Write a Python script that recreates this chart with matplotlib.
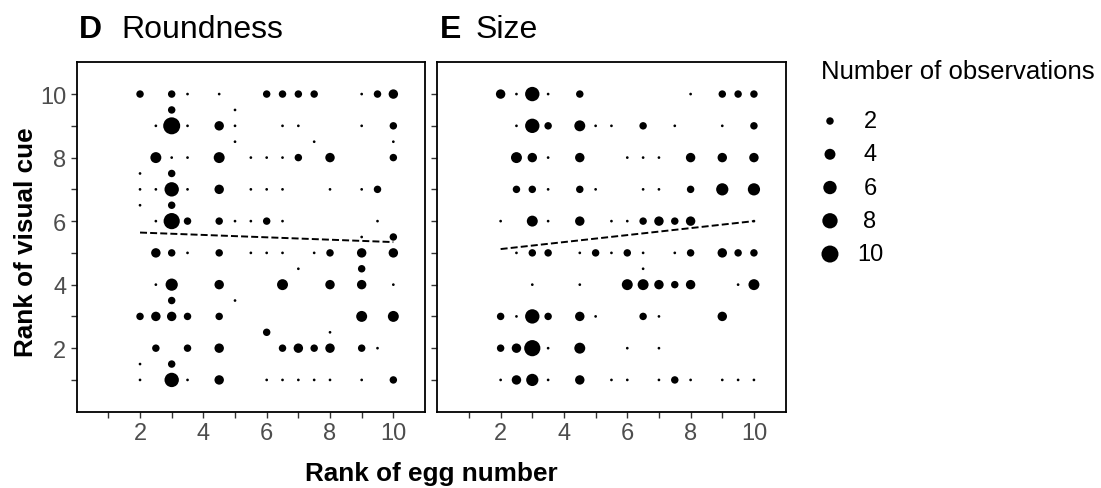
import numpy as np
import matplotlib
matplotlib.use("Agg")
import matplotlib.pyplot as plt

plt.rcParams['font.family'] = ['Liberation Sans', 'DejaVu Sans']

# ---- data: (rank of egg number, rank of visual cue, number of observations)
# panel D: roundness
round_x = [2, 3, 3.5, 4.5, 6, 6.5, 7, 7.5, 9, 9.5, 10,
           3, 5,
           2.5, 3, 3.5, 4.5, 5, 6.5, 7, 9, 10,
           5, 7.5, 10,
           2.5, 3, 3.5, 4.5, 5.5, 6, 6.5, 7, 8, 10,
           2, 3,
           2, 2.5, 3, 3.5, 4.5, 5.5, 6, 6.5, 8, 9, 9.5,
           2, 3,
           2.5, 3, 3.5, 4.5, 5, 5.5, 6, 6.5, 9.5,
           9, 10,
           2.5, 3, 3.5, 4.5, 5.5, 6, 6.5, 7.5, 8, 9, 10,
           7, 9,
           2.5, 3, 4.5, 6.5, 8, 9, 10,
           3, 5,
           2, 2.5, 3, 3.5, 4.5, 9, 10,
           6, 8,
           2.5, 3.5, 4.5, 6.5, 7, 7.5, 8, 9, 9.5,
           2, 3,
           2, 3, 3.5, 4.5, 6, 6.5, 7, 7.5, 8, 9, 10]
round_y = ([10] * 11 + [9.5] * 2 + [9] * 9 + [8.5] * 3 + [8] * 10 + [7.5] * 2
           + [7] * 11 + [6.5] * 2 + [6] * 9 + [5.5] * 2 + [5] * 11 + [4.5] * 2
           + [4] * 7 + [3.5] * 2 + [3] * 7 + [2.5] * 2 + [2] * 9 + [1.5] * 2
           + [1] * 11)
round_n = [2, 2, 1, 1, 2, 2, 2, 2, 1, 2, 3,
           2, 1,
           1, 10, 1, 3, 1, 1, 1, 1, 2,
           1, 1, 1,
           4, 1, 1, 4, 1, 1, 1, 2, 3, 2,
           1, 2,
           1, 1, 7, 1, 3, 1, 1, 1, 1, 1, 2,
           1, 2,
           1, 9, 2, 2, 1, 1, 2, 1, 1,
           1, 2,
           3, 2, 1, 2, 1, 1, 1, 1, 2, 3, 3,
           1, 2,
           1, 5, 3, 4, 3, 3, 1,
           2, 1,
           2, 3, 3, 2, 2, 4, 4,
           2, 1,
           2, 2, 3, 2, 3, 2, 3, 2, 1,
           1, 2,
           1, 7, 1, 3, 1, 1, 1, 1, 1, 1, 2]

# panel E: size
size_x = [2, 2.5, 3, 3.5, 4.5, 8, 9, 9.5, 10,
          2.5, 3, 3.5, 4.5, 5, 5.5, 6.5, 7.5, 9, 10,
          2.5, 3, 3.5, 4.5, 6, 6.5, 7, 8, 9, 10,
          2.5, 3, 3.5, 4.5, 5, 6.5, 7, 8, 9, 10,
          2, 3, 3.5, 4.5, 5.5, 6, 6.5, 7, 7.5, 8, 10,
          2.5, 3, 3.5, 4.5, 5, 5.5, 6, 6.5, 7.5, 8, 9, 9.5, 10,
          6.5,
          3, 4.5, 6, 6.5, 7, 7.5, 8, 9.5, 10,
          2, 2.5, 3, 3.5, 4.5, 5, 6.5, 7, 9,
          2, 2.5, 3, 3.5, 4.5, 6, 7,
          2, 2.5, 3, 3.5, 4.5, 5.5, 6, 7, 7.5, 8, 9, 9.5, 10]
size_y = ([10] * 9 + [9] * 10 + [8] * 10 + [7] * 10 + [6] * 11 + [5] * 13
          + [4.5] * 1 + [4] * 9 + [3] * 9 + [2] * 7 + [1] * 13)
size_n = [3, 1, 7, 1, 2, 1, 2, 2, 2,
          1, 7, 2, 4, 1, 1, 2, 1, 1, 2,
          4, 3, 1, 3, 1, 1, 1, 3, 3, 3,
          2, 2, 1, 2, 1, 1, 1, 2, 5, 5,
          1, 4, 1, 3, 1, 1, 2, 3, 2, 3, 1,
          1, 2, 2, 1, 2, 1, 2, 1, 1, 2, 3, 2, 2,
          1,
          1, 1, 4, 4, 3, 2, 3, 1, 4,
          2, 1, 7, 2, 3, 1, 2, 1, 3,
          2, 3, 9, 1, 4, 1, 1,
          1, 3, 5, 1, 3, 1, 1, 1, 2, 1, 1, 1, 1]

# fitted lines (endpoints at egg rank 2 and 10)
fit_x = [2, 10]
round_fit = [5.64, 5.34]
size_fit = [5.12, 6.00]

legend_n = [2, 4, 6, 8, 10]


def dot_size(n):
    # ggplot-like area scale: diameter in px, converted to pt^2
    n = np.asarray(n, dtype=float)
    d_px = 2.7 + 14.3 * np.sqrt((n - 1) / 9)
    return (d_px * 0.72) ** 2


W, H = 1101, 489
fig = plt.figure(figsize=(W / 100, H / 100), dpi=100)


def px_axes(x0, y0, x1, y1):
    return fig.add_axes([x0 / W, 1 - y1 / H, (x1 - x0) / W, (y1 - y0) / H])


ax1 = px_axes(76.7, 63.3, 425, 412.7)
ax2 = px_axes(437.3, 63.3, 785.6, 412.7)

panels = [(ax1, round_x, round_y, round_n, round_fit),
          (ax2, size_x, size_y, size_n, size_fit)]
for ax, xs, ys, ns, fit in panels:
    ax.scatter(xs, ys, s=dot_size(ns), color='black', linewidths=0, zorder=3)
    ax.plot(fit_x, fit, color='black', lw=1.4, ls=(0, (3.6, 1.6)), zorder=2)
    ax.set_xlim(0, 11)
    ax.set_ylim(0, 11)
    ticks = np.arange(1, 11)
    ax.set_xticks(ticks)
    ax.set_xticklabels([str(t) if t % 2 == 0 else '' for t in ticks])
    ax.set_yticks(ticks)
    ax.set_yticklabels([str(t) if t % 2 == 0 else '' for t in ticks])
    ax.tick_params(length=4.5, width=1.0, color='#333333', labelcolor='#4D4D4D',
                   labelsize=17, pad=3)
    for sp in ax.spines.values():
        sp.set_linewidth(1.3)
        sp.set_color('black')
ax2.set_yticklabels([])

# panel titles
fig.text(79 / W, 1 - 37.5 / H, 'D', fontsize=23, fontweight='bold', va='baseline')
fig.text(121 / W, 1 - 37.5 / H, 'Roundness', fontsize=23, va='baseline')
fig.text(440 / W, 1 - 37.5 / H, 'E', fontsize=23, fontweight='bold', va='baseline')
fig.text(476 / W, 1 - 37.5 / H, 'Size', fontsize=23, va='baseline')

# axis labels
fig.text(431 / W, 1 - 481 / H, 'Rank of egg number', fontsize=18.8,
         fontweight='bold', ha='center', va='baseline')
fig.text(33 / W, 1 - 242 / H, 'Rank of visual cue', fontsize=18.8,
         fontweight='bold', ha='center', va='baseline', rotation=90,
         rotation_mode='anchor')

# legend
fig.text(821 / W, 1 - 79.5 / H, 'Number of observations', fontsize=18.5,
         va='baseline')
axl = px_axes(815, 105, 885, 272)
axl.scatter([0.214] * len(legend_n), legend_n, s=dot_size(legend_n),
            color='black', linewidths=0)
for v in legend_n:
    axl.text(0.786, v, str(v), fontsize=17, ha='center', va='center')
axl.set_xlim(0, 1)
axl.set_ylim(11.02, 0.976)
axl.axis('off')

fig.savefig('out.png', dpi=100)
